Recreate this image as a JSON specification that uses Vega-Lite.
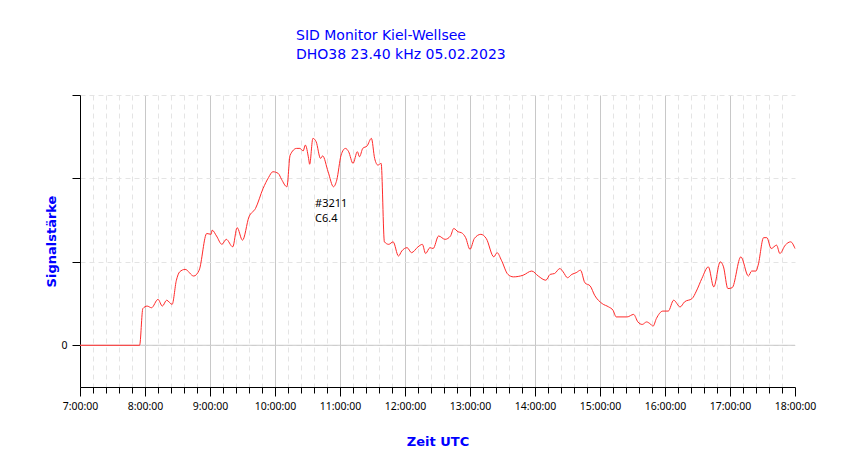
{
  "$schema": "https://vega.github.io/schema/vega-lite/v6.json",
  "width": 715,
  "height": 292,
  "autosize": {"type": "none"},
  "padding": {"left": 80, "top": 95, "right": 55, "bottom": 72},
  "background": "white",
  "title": {
    "text": ["SID Monitor Kiel-Wellsee", "DHO38 23.40 kHz 05.02.2023"],
    "anchor": "start",
    "dx": 250,
    "offset": 33,
    "font": "DejaVu Sans",
    "fontSize": 14,
    "fontWeight": "normal",
    "color": "#0000ff",
    "lineHeight": 19
  },
  "config": {
    "view": {"stroke": null},
    "axis": {
      "labelFont": "Noto Sans",
      "labelFontSize": 10.5,
      "labelColor": "#000000",
      "titleFont": "DejaVu Sans",
      "titleFontSize": 13,
      "titleFontWeight": "bold",
      "titleColor": "#0000ff",
      "domainColor": "#000000",
      "tickColor": "#000000"
    }
  },
  "datasets": {
    "sid": [
      {"h": 7, "v": 0}, {"h": 7.917, "v": 0}, {"h": 7.967, "v": 0.44}, {"h": 8.033, "v": 0.47},
      {"h": 8.1, "v": 0.45}, {"h": 8.2, "v": 0.55}, {"h": 8.267, "v": 0.47}, {"h": 8.333, "v": 0.54},
      {"h": 8.417, "v": 0.49}, {"h": 8.483, "v": 0.78}, {"h": 8.533, "v": 0.88}, {"h": 8.617, "v": 0.91},
      {"h": 8.75, "v": 0.83}, {"h": 8.833, "v": 0.90}, {"h": 8.95, "v": 1.34}, {"h": 9.017, "v": 1.33},
      {"h": 9.033, "v": 1.38}, {"h": 9.1, "v": 1.31}, {"h": 9.183, "v": 1.21}, {"h": 9.25, "v": 1.27},
      {"h": 9.35, "v": 1.18}, {"h": 9.417, "v": 1.41}, {"h": 9.5, "v": 1.26}, {"h": 9.6, "v": 1.54},
      {"h": 9.7, "v": 1.64}, {"h": 9.817, "v": 1.88}, {"h": 9.9, "v": 2.01}, {"h": 9.967, "v": 2.08},
      {"h": 10.05, "v": 2.06}, {"h": 10.1, "v": 1.99}, {"h": 10.183, "v": 1.90}, {"h": 10.233, "v": 2.28},
      {"h": 10.333, "v": 2.36}, {"h": 10.383, "v": 2.36}, {"h": 10.433, "v": 2.33}, {"h": 10.467, "v": 2.40},
      {"h": 10.517, "v": 2.24}, {"h": 10.533, "v": 2.17}, {"h": 10.583, "v": 2.48}, {"h": 10.633, "v": 2.44},
      {"h": 10.7, "v": 2.24}, {"h": 10.733, "v": 2.27}, {"h": 10.817, "v": 2.08}, {"h": 10.9, "v": 1.90},
      {"h": 10.95, "v": 1.98}, {"h": 11.017, "v": 2.28}, {"h": 11.083, "v": 2.36}, {"h": 11.133, "v": 2.32},
      {"h": 11.2, "v": 2.18}, {"h": 11.267, "v": 2.32}, {"h": 11.3, "v": 2.26}, {"h": 11.35, "v": 2.36},
      {"h": 11.417, "v": 2.39}, {"h": 11.483, "v": 2.48}, {"h": 11.533, "v": 2.24}, {"h": 11.583, "v": 2.16},
      {"h": 11.633, "v": 2.18}, {"h": 11.683, "v": 1.24}, {"h": 11.75, "v": 1.21}, {"h": 11.817, "v": 1.24},
      {"h": 11.9, "v": 1.07}, {"h": 11.95, "v": 1.13}, {"h": 12.033, "v": 1.17}, {"h": 12.1, "v": 1.11},
      {"h": 12.2, "v": 1.18}, {"h": 12.267, "v": 1.21}, {"h": 12.317, "v": 1.10}, {"h": 12.383, "v": 1.17},
      {"h": 12.433, "v": 1.16}, {"h": 12.517, "v": 1.31}, {"h": 12.617, "v": 1.27}, {"h": 12.7, "v": 1.31},
      {"h": 12.75, "v": 1.40}, {"h": 12.817, "v": 1.36}, {"h": 12.867, "v": 1.35}, {"h": 12.933, "v": 1.29},
      {"h": 13, "v": 1.15}, {"h": 13.067, "v": 1.28}, {"h": 13.167, "v": 1.33}, {"h": 13.25, "v": 1.28},
      {"h": 13.367, "v": 1.06}, {"h": 13.417, "v": 1.11}, {"h": 13.483, "v": 1.02}, {"h": 13.583, "v": 0.85},
      {"h": 13.667, "v": 0.82}, {"h": 13.817, "v": 0.84}, {"h": 13.95, "v": 0.89}, {"h": 14.05, "v": 0.83},
      {"h": 14.167, "v": 0.78}, {"h": 14.233, "v": 0.85}, {"h": 14.3, "v": 0.86}, {"h": 14.383, "v": 0.92},
      {"h": 14.433, "v": 0.88}, {"h": 14.5, "v": 0.81}, {"h": 14.567, "v": 0.85}, {"h": 14.633, "v": 0.87},
      {"h": 14.7, "v": 0.90}, {"h": 14.767, "v": 0.75}, {"h": 14.85, "v": 0.71}, {"h": 14.917, "v": 0.60},
      {"h": 15.033, "v": 0.50}, {"h": 15.133, "v": 0.46}, {"h": 15.2, "v": 0.42}, {"h": 15.25, "v": 0.34},
      {"h": 15.417, "v": 0.34}, {"h": 15.517, "v": 0.37}, {"h": 15.583, "v": 0.28}, {"h": 15.65, "v": 0.25},
      {"h": 15.717, "v": 0.28}, {"h": 15.767, "v": 0.26}, {"h": 15.817, "v": 0.23}, {"h": 15.867, "v": 0.32},
      {"h": 15.967, "v": 0.41}, {"h": 16.05, "v": 0.41}, {"h": 16.133, "v": 0.54}, {"h": 16.233, "v": 0.46},
      {"h": 16.3, "v": 0.52}, {"h": 16.417, "v": 0.56}, {"h": 16.483, "v": 0.65}, {"h": 16.567, "v": 0.80},
      {"h": 16.667, "v": 0.94}, {"h": 16.75, "v": 0.70}, {"h": 16.85, "v": 1.00}, {"h": 16.9, "v": 0.94},
      {"h": 16.967, "v": 0.68}, {"h": 17.033, "v": 0.69}, {"h": 17.167, "v": 1.06}, {"h": 17.283, "v": 0.83},
      {"h": 17.333, "v": 0.89}, {"h": 17.4, "v": 0.89}, {"h": 17.433, "v": 0.96}, {"h": 17.517, "v": 1.29},
      {"h": 17.567, "v": 1.29}, {"h": 17.633, "v": 1.16}, {"h": 17.717, "v": 1.20}, {"h": 17.767, "v": 1.10},
      {"h": 17.85, "v": 1.20}, {"h": 17.933, "v": 1.24}, {"h": 18, "v": 1.16}
    ],
    "note": [
      {"h": 10.617, "v": 1.76, "label": "#3211"},
      {"h": 10.617, "v": 1.58, "label": "C6.4"}
    ]
  },
  "layer": [
    {
      "data": {"values": [{}]},
      "mark": {"type": "rule", "color": "#c8c8c8", "strokeWidth": 1},
      "encoding": {"y": {"datum": 0, "type": "quantitative"}}
    },
    {
      "data": {"name": "note"},
      "mark": {"type": "text", "opacity": 0},
      "encoding": {
        "x": {
          "field": "h", "type": "quantitative",
          "axis": {
            "orient": "bottom",
            "title": null,
            "labels": false,
            "ticks": false,
            "domain": false,
            "values": [8, 9, 10, 11, 12, 13, 14, 15, 16, 17],
            "grid": true,
            "gridColor": "#c8c8c8"
          }
        },
        "y": {"field": "v", "type": "quantitative"},
        "text": {"field": "label", "type": "nominal"}
      }
    },
    {
      "data": {"name": "sid"},
      "mark": {"type": "line", "color": "#ff2a2a", "strokeWidth": 1, "interpolate": "monotone"},
      "encoding": {
        "x": {
          "field": "h", "type": "quantitative",
          "scale": {"domain": [7, 18], "nice": false, "zero": false},
          "axis": {
            "orient": "bottom",
            "title": "Zeit UTC",
            "values": [7, 8, 9, 10, 11, 12, 13, 14, 15, 16, 17, 18],
            "labelExpr": "datum.value + ':00:00'",
            "tickSize": 9,
            "labelPadding": 5,
            "labelAngle": 0,
            "labelFlush": false,
            "labelOverlap": false,
            "titlePadding": 24,
            "grid": false
          }
        },
        "y": {
          "field": "v", "type": "quantitative",
          "scale": {"domain": [-0.5, 3], "nice": false, "zero": false},
          "axis": {
            "title": "Signalstärke",
            "values": [0, 1, 2, 3],
            "labelExpr": "datum.value == 0 ? '0' : ''",
            "tickSize": 8,
            "labelPadding": 5,
            "titlePadding": 2,
            "grid": true,
            "gridColor": "#e4e4e4",
            "gridDash": [5, 4]
          }
        }
      }
    },
    {
      "data": {"name": "note"},
      "mark": {"type": "text", "align": "left", "baseline": "top", "font": "Noto Sans", "fontSize": 11, "color": "#000000"},
      "encoding": {
        "x": {
          "field": "h", "type": "quantitative",
          "axis": {
            "orient": "bottom",
            "title": null,
            "labels": false,
            "domain": false,
            "values": [7.2, 7.4, 7.6, 7.8, 8.2, 8.4, 8.6, 8.8, 9.2, 9.4, 9.6, 9.8, 10.2, 10.4, 10.6, 10.8, 11.2, 11.4, 11.6, 11.8, 12.2, 12.4, 12.6, 12.8, 13.2, 13.4, 13.6, 13.8, 14.2, 14.4, 14.6, 14.8, 15.2, 15.4, 15.6, 15.8, 16.2, 16.4, 16.6, 16.8, 17.2, 17.4, 17.6, 17.8],
            "tickSize": 6,
            "grid": true,
            "gridColor": "#e4e4e4",
            "gridDash": [5, 4]
          }
        },
        "y": {"field": "v", "type": "quantitative"},
        "text": {"field": "label", "type": "nominal"}
      }
    }
  ],
  "resolve": {"axis": {"x": "independent"}}
}
